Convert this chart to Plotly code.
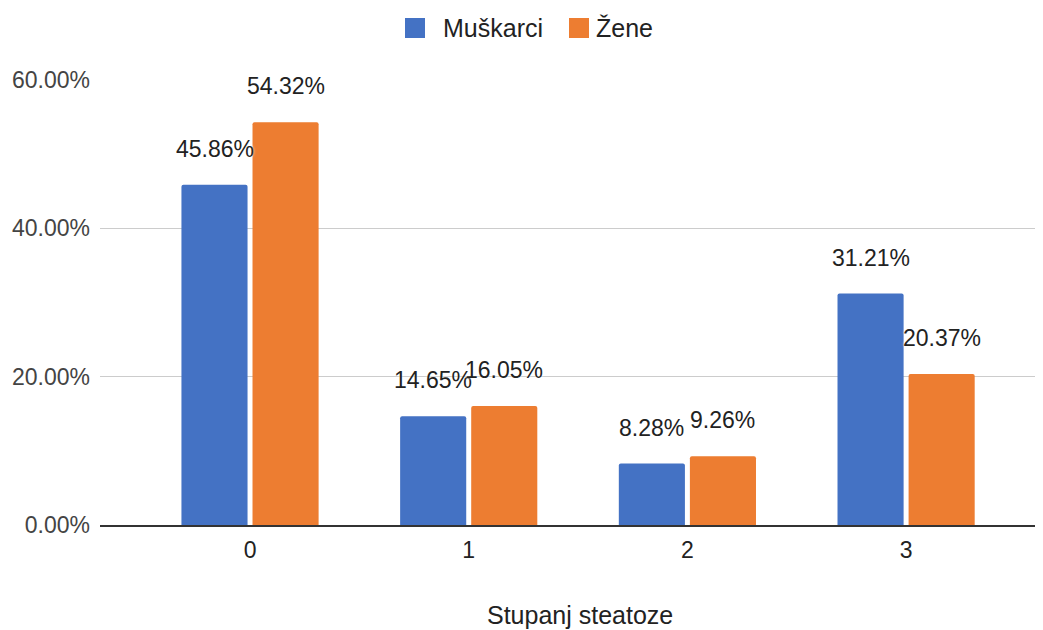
import plotly.graph_objects as go

categories = ["0", "1", "2", "3"]
muskarci = [0.4586, 0.1465, 0.0828, 0.3121]
zene = [0.5432, 0.1605, 0.0926, 0.2037]
series_names = ["Muškarci", "Žene"]
colors = ["#4472c4", "#ed7d31"]
y_ticks = [0, 0.2, 0.4, 0.6]
y_tick_labels = ["0.00%", "20.00%", "40.00%", "60.00%"]
x_title = "Stupanj steatoze"

FONT = "Liberation Sans, Arial, sans-serif"

# the page body adds an 8px offset; compensate so the figure fills the window
OFF = 8
W, H = 1043 - OFF, 630 - OFF
L, R, T, B = 100 - OFF, 0, 80 - OFF, 105
PW, PH = W - L - R, H - T - B

def px_x(p):  # page pixel -> paper x
    return (p - OFF - L) / PW

def px_y(p):  # page pixel -> paper y
    return (H - B - (p - OFF)) / PH

fig = go.Figure()
for name, vals, col in zip(series_names, [muskarci, zene], colors):
    fig.add_trace(go.Bar(
        x=categories, y=vals, name=name,
        marker=dict(color=col, line=dict(width=0), cornerradius=2),
        showlegend=False,
        hoverinfo="skip",
    ))

# data labels above bars
for vals, off in zip([muskarci, zene], [-0.5, 0.5]):
    for c, v in zip(categories, vals):
        fig.add_annotation(
            x=c, y=v, xref="x", yref="y",
            text=f"{v*100:.2f}%", showarrow=False,
            xshift=off * 71, yshift=36, yanchor="middle",
            font=dict(family=FONT, size=23, color="#222222",
                      shadow="0px 0px 3px white"),
        )

# manual legend (large square swatches)
legend_items = [(405, 441), (569, 594)]
for (sx, tx), name, col in zip(legend_items, series_names, colors):
    fig.add_shape(type="rect", xref="paper", yref="paper",
                  x0=px_x(sx), x1=px_x(sx + 20), y0=px_y(38), y1=px_y(18),
                  fillcolor=col, line=dict(width=0))
    fig.add_annotation(xref="paper", yref="paper", x=px_x(tx), y=px_y(28),
                       text=name, showarrow=False, xanchor="left", yanchor="middle",
                       font=dict(family=FONT, size=25, color="#222222"))

# x-axis title
fig.add_annotation(xref="paper", yref="paper", x=px_x(580), y=px_y(615),
                   text=x_title, showarrow=False, xanchor="center", yanchor="middle",
                   font=dict(family=FONT, size=25, color="#222222"))

fig.update_layout(
    width=W, height=H,
    margin=dict(l=L, r=R, t=T, b=B, autoexpand=False),
    paper_bgcolor="white", plot_bgcolor="white",
    barmode="group", bargap=0.35, bargroupgap=0.07,
    font=dict(family=FONT, color="#444444"),
    showlegend=False,
    xaxis=dict(
        type="category", range=[-0.686, 3.626],
        tickfont=dict(size=23, color="#222222"),
        showgrid=False, showline=True, linecolor="#333333", linewidth=1.5,
        ticks="", ticklabelstandoff=4, automargin=False,
    ),
    yaxis=dict(
        range=[0, 0.6], tickvals=y_ticks, ticktext=y_tick_labels,
        tickfont=dict(size=23, color="#444444"),
        showgrid=True, gridcolor="#cccccc", gridwidth=1,
        zeroline=False, showline=False, ticks="", ticklabelstandoff=9,
        automargin=False,
    ),
)

fig.write_html("out.html")
